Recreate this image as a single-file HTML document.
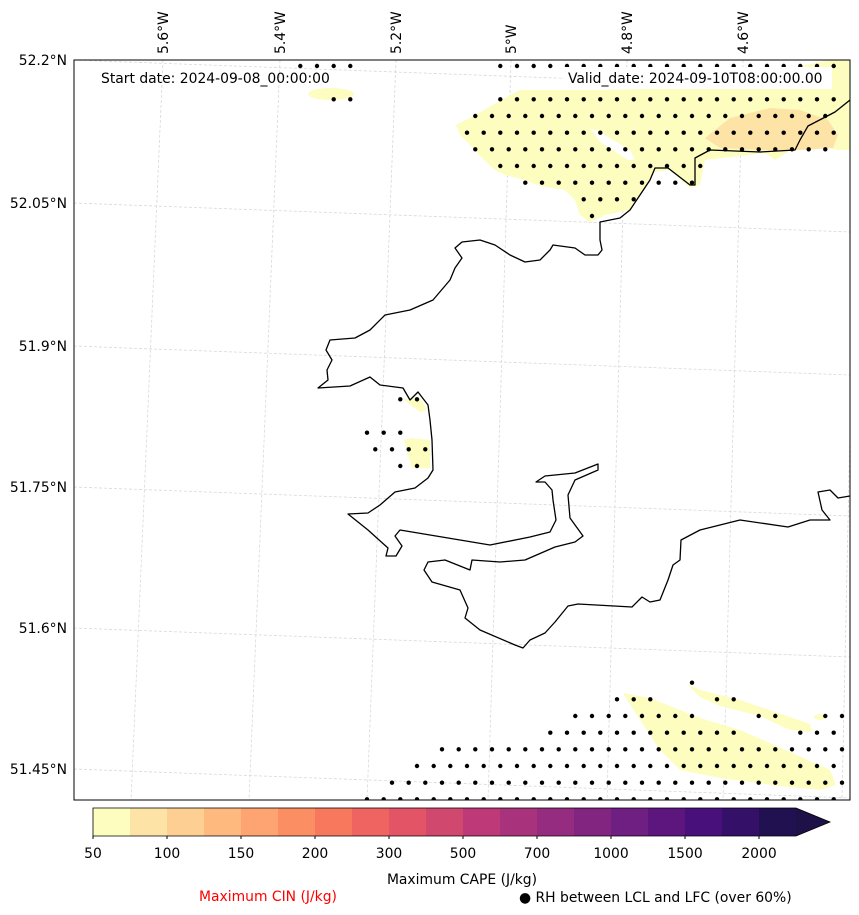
<!DOCTYPE html>
<html><head><meta charset="utf-8"><style>
html,body{margin:0;padding:0;background:#fff;}
svg{display:block;font-family:"DejaVu Sans","Liberation Sans",sans-serif;}
</style></head><body>
<svg id="fig" width="859" height="915" viewBox="0 0 859 915" xmlns="http://www.w3.org/2000/svg">
<defs><clipPath id="mapclip"><rect x="74" y="60" width="776" height="740"/></clipPath></defs>
<rect x="0" y="0" width="859" height="915" fill="#fff"/>
<g id="map" clip-path="url(#mapclip)">
  <g id="grid" stroke="#d8d8d8" stroke-width="0.8" stroke-dasharray="3,2" fill="none"></g>
  <g id="cape">
    <path fill="#fcfdbf" d="M456,125 L470,118 L505,98 L520,90 L600,90 L700,88 L790,68 L830,60 L850,60 L850,150 L838,150 L820,146 L790,151 L775,160 L765,153 L740,156 L705,160 L700,185 L690,188 L670,170 L655,172 L640,195 L630,210 L605,215 L590,222 L580,215 L575,200 L565,190 L540,186 L525,180 L505,175 L495,170 L480,156 L470,145 L460,135 Z"/>
    <path fill="#fff" d="M590,128 L600,132 L630,150 L635,160 L628,160 L600,142 Z"/>
    <path fill="#fde4a6" d="M705,138 L730,118 L770,108 L800,110 L828,120 L838,135 L833,148 L800,150 L760,150 L720,148 Z"/>
    <ellipse cx="331" cy="94" rx="23" ry="6" fill="#fcfdbf"/>
    <path fill="#fcfdbf" d="M403,399 L420,398 L427,410 L420,412 Z"/>
    <path fill="#fcfdbf" d="M404,440 L412,438 L430,440 L430,468 L412,468 L408,455 Z"/>
    <path fill="#fcfdbf" d="M623,693 L650,698 L700,718 L740,730 L790,752 L830,770 L836,785 L820,790 L780,786 L720,778 L680,770 L660,750 L650,735 L635,712 Z"/>
    <path fill="#fcfdbf" d="M687,684 L700,690 L740,700 L775,712 L810,724 L812,732 L790,730 L760,716 L720,706 L700,697 Z"/>
    <ellipse cx="820" cy="717" rx="6" ry="3" fill="#fcfdbf"/>
  </g>
  <g id="dots" fill="#000"></g>
  <polyline id="coast" fill="none" stroke="#000" stroke-width="1.3" stroke-linejoin="round" points="850,100 835,112 808,126 800,140 795,150 760,152 710,150 695,158 695,185 690,185 668,168 655,168 650,180 640,195 630,210 620,218 600,222 600,240 602,250 598,255 585,255 575,248 553,245 550,250 540,260 525,262 510,255 495,245 480,240 462,242 455,248 462,258 455,268 450,280 433,300 410,310 385,315 370,330 355,338 330,340 326,350 332,360 327,370 328,380 318,388 350,386 370,377 380,385 403,388 410,400 418,392 428,405 430,420 432,440 433,470 428,478 415,488 395,492 380,505 368,513 348,514 368,530 388,548 386,556 396,556 402,546 395,536 400,530 430,535 490,545 530,537 550,532 556,520 553,500 552,490 545,482 536,482 545,476 575,473 598,464 598,470 575,480 568,495 570,518 583,536 575,542 555,547 525,560 500,562 472,560 470,570 445,560 428,562 424,570 432,582 460,590 468,608 465,618 480,630 515,645 523,648 530,640 545,633 555,622 568,606 578,604 632,607 642,597 650,602 660,600 668,580 673,565 680,560 681,540 700,530 740,520 788,527 810,520 830,520 822,510 818,492 830,490 838,498 850,496"/>
  <rect x="564" y="67" width="268" height="22" fill="#fff"/>
  <text x="101" y="83" font-size="13.9">Start date: 2024-09-08_00:00:00</text>
  <text x="568" y="83" font-size="13.9">Valid_date: 2024-09-10T08:00:00.00</text>
</g>
<rect x="74" y="60" width="776" height="740" fill="none" stroke="#000" stroke-width="1"/>
<g id="lonlabels" font-size="13.9"></g>
<g id="latlabels" font-size="13.9"></g>
<g id="cbar"></g>
<text x="462" y="884" font-size="13.9" text-anchor="middle">Maximum CAPE (J/kg)</text>
<text x="268" y="901" font-size="13.9" text-anchor="middle" fill="#ff0000">Maximum CIN (J/kg)</text>
<text x="519" y="902" font-size="13.9">● RH between LCL and LFC (over 60%)</text>
</svg>
<script>
const NS='http://www.w3.org/2000/svg';
// Data
const lonLabels=['5.6°W','5.4°W','5.2°W','5°W','4.8°W','4.6°W','4.4°W'];
const lonTop=[163,280,396,511,627,743,858];
const lonBottom=[131,249,367,488,607,723,842];
const latLabels=['52.2°N','52.05°N','51.9°N','51.75°N','51.6°N','51.45°N'];
const latLeft=[60,203,346,487,628,769];
const cbarTicks=['50','100','150','200','300','500','700','1000','1500','2000'];
const cbarColors=["#fcfdbf","#fde4a6","#fecf92","#feb97f","#fea472","#fc8e64","#f7785d","#ef6360","#e25466","#d0486e","#bd3977","#a9327c","#962c80","#822581","#6f1f81","#5c167e","#48107a","#341068","#221150"];
// rows of RH dots: [rowIndex, firstCol, lastCol]
const dotRows=[[0,-4,-1],[0,8,28],[1,27,27],[2,-2,-1],[2,8,28],[3,6,27],[4,6,28],[5,6,27],[6,8,20],[7,9,19],[8,13,16],[9,13,13],
[20,2,3],[22,0,2],[23,0,3],[24,2,3],
[37,19,19],[38,15,17],[38,21,22],[39,12,19],[39,23,24],[39,27,28],[40,11,22],[40,26,28],[41,4,28],[42,3,28],[43,1,28],[44,0,28]];

const slope=29/776;
const grid=document.getElementById('grid');
lonTop.forEach((xt,i)=>{const l=document.createElementNS(NS,'line');


l.setAttribute('x1',xt);l.setAttribute('y1',60);l.setAttribute('x2',lonBottom[i]);l.setAttribute('y2',800);grid.appendChild(l);});
latLeft.forEach(y=>{const l=document.createElementNS(NS,'line');


l.setAttribute('x1',74);l.setAttribute('y1',y);l.setAttribute('x2',850);l.setAttribute('y2',y+776*slope);grid.appendChild(l);});

const dots=document.getElementById('dots');
const dx=16.667,dy=16.667;
dotRows.forEach(r=>{const [j,k0,k1]=r;for(let k=k0;k<=k1;k++){const c=document.createElementNS(NS,'circle');


c.setAttribute('cx',(367+dx*(k+(j%2)/2)).toFixed(1));c.setAttribute('cy',(66+dy*j).toFixed(1));c.setAttribute('r',2.2);dots.appendChild(c);}});

const lonG=document.getElementById('lonlabels');
lonLabels.forEach((t,i)=>{if(lonTop[i]>850)return;const e=document.createElementNS(NS,'text');


e.setAttribute('transform','translate('+(lonTop[i]+5)+',54) rotate(-90)');e.textContent=t;lonG.appendChild(e);});
const latG=document.getElementById('latlabels');
latLabels.forEach((t,i)=>{const e=document.createElementNS(NS,'text');


e.setAttribute('x',67);e.setAttribute('y',latLeft[i]+5);e.setAttribute('text-anchor','end');e.textContent=t;latG.appendChild(e);});

const cb=document.getElementById('cbar');
const cx0=93,cy0=808,ch=28,cw=37;
cbarColors.forEach((col,i)=>{const r=document.createElementNS(NS,'rect');


r.setAttribute('x',cx0+i*cw);r.setAttribute('y',cy0);r.setAttribute('width',cw+0.5);r.setAttribute('height',ch);r.setAttribute('fill',col);cb.appendChild(r);});
const endX=cx0+cbarColors.length*cw;
const ar=document.createElementNS(NS,'path');


ar.setAttribute('d','M'+endX+','+cy0+' L830,'+(cy0+ch/2)+' L'+endX+','+(cy0+ch)+' Z');ar.setAttribute('fill','#1d1147');cb.appendChild(ar);
const ol=document.createElementNS(NS,'path');


ol.setAttribute('d','M'+cx0+','+cy0+' L'+endX+','+cy0+' L830,'+(cy0+ch/2)+' L'+endX+','+(cy0+ch)+' L'+cx0+','+(cy0+ch)+' Z');ol.setAttribute('fill','none');ol.setAttribute('stroke','#000');ol.setAttribute('stroke-width','0.8');cb.appendChild(ol);
cbarTicks.forEach((t,i)=>{const x=cx0+i*2*cw;const tk=document.createElementNS(NS,'line');


tk.setAttribute('x1',x);tk.setAttribute('x2',x);tk.setAttribute('y1',cy0+ch);tk.setAttribute('y2',cy0+ch+3);tk.setAttribute('stroke','#000');cb.appendChild(tk);
const e=document.createElementNS(NS,'text');


e.setAttribute('x',x);e.setAttribute('y',858);e.setAttribute('text-anchor','middle');e.setAttribute('font-size','13.9');e.textContent=t;cb.appendChild(e);});
</script>
</body></html>
